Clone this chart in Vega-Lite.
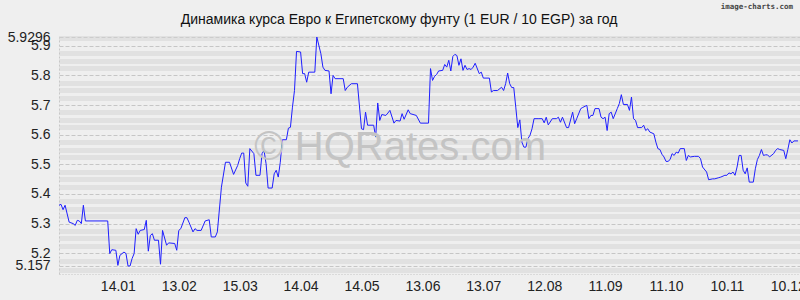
{
  "$schema": "https://vega.github.io/schema/vega-lite/v6.json",
  "autosize": "none",
  "width": 741,
  "height": 237,
  "padding": {"left": 59, "top": 37, "right": 0, "bottom": 26},
  "background": "#efefef",
  "config": {"view": {"stroke": null}, "font": "Liberation Sans"},
  "resolve": {"axis": {"y": "independent"}},
  "layer": [
    {
      "data": {"values": [
        {"d":"2024-12-16","v":5.362},{"d":"2024-12-17","v":5.365},{"d":"2024-12-18","v":5.347},{"d":"2024-12-19","v":5.362},{"d":"2024-12-21","v":5.305},{"d":"2024-12-23","v":5.300},{"d":"2024-12-24","v":5.294},{"d":"2024-12-25","v":5.311},{"d":"2024-12-26","v":5.309},{"d":"2024-12-27","v":5.300},{"d":"2024-12-28","v":5.362},{"d":"2024-12-29","v":5.309},
        {"d":"2025-01-09","v":5.309},{"d":"2025-01-10","v":5.199},{"d":"2025-01-11","v":5.212},{"d":"2025-01-13","v":5.210},{"d":"2025-01-14","v":5.159},{"d":"2025-01-15","v":5.193},{"d":"2025-01-17","v":5.204},{"d":"2025-01-18","v":5.199},{"d":"2025-01-19","v":5.157},{"d":"2025-01-20","v":5.157},{"d":"2025-01-21","v":5.182},{"d":"2025-01-22","v":5.199},{"d":"2025-01-23","v":5.283},{"d":"2025-01-24","v":5.264},{"d":"2025-01-25","v":5.277},{"d":"2025-01-27","v":5.280},{"d":"2025-01-28","v":5.311},{"d":"2025-01-29","v":5.207},{"d":"2025-01-30","v":5.260},{"d":"2025-01-31","v":5.266},
        {"d":"2025-02-01","v":5.244},{"d":"2025-02-03","v":5.244},{"d":"2025-02-04","v":5.163},{"d":"2025-02-05","v":5.277},{"d":"2025-02-07","v":5.227},{"d":"2025-02-08","v":5.235},{"d":"2025-02-11","v":5.233},{"d":"2025-02-12","v":5.210},{"d":"2025-02-13","v":5.277},{"d":"2025-02-14","v":5.283},{"d":"2025-02-16","v":5.320},{"d":"2025-02-17","v":5.320},{"d":"2025-02-18","v":5.305},{"d":"2025-02-20","v":5.272},{"d":"2025-02-21","v":5.283},{"d":"2025-02-22","v":5.277},{"d":"2025-02-24","v":5.277},{"d":"2025-02-26","v":5.309},{"d":"2025-02-28","v":5.313},
        {"d":"2025-03-01","v":5.255},{"d":"2025-03-03","v":5.255},{"d":"2025-03-04","v":5.272},{"d":"2025-03-06","v":5.423},{"d":"2025-03-08","v":5.507},{"d":"2025-03-10","v":5.507},{"d":"2025-03-12","v":5.466},{"d":"2025-03-14","v":5.496},{"d":"2025-03-15","v":5.519},{"d":"2025-03-16","v":5.538},{"d":"2025-03-17","v":5.538},{"d":"2025-03-18","v":5.437},{"d":"2025-03-19","v":5.426},{"d":"2025-03-20","v":5.553},{"d":"2025-03-22","v":5.536},{"d":"2025-03-23","v":5.463},{"d":"2025-03-25","v":5.463},{"d":"2025-03-26","v":5.536},{"d":"2025-03-27","v":5.547},{"d":"2025-03-28","v":5.502},{"d":"2025-03-29","v":5.420},{"d":"2025-03-31","v":5.420},
        {"d":"2025-04-01","v":5.468},{"d":"2025-04-02","v":5.480},{"d":"2025-04-03","v":5.457},{"d":"2025-04-04","v":5.507},{"d":"2025-04-05","v":5.583},{"d":"2025-04-07","v":5.583},{"d":"2025-04-08","v":5.622},{"d":"2025-04-09","v":5.625},{"d":"2025-04-10","v":5.693},{"d":"2025-04-11","v":5.749},{"d":"2025-04-12","v":5.881},{"d":"2025-04-14","v":5.879},{"d":"2025-04-15","v":5.806},{"d":"2025-04-16","v":5.806},{"d":"2025-04-17","v":5.777},{"d":"2025-04-18","v":5.811},{"d":"2025-04-21","v":5.811},{"d":"2025-04-22","v":5.9296},{"d":"2025-04-24","v":5.873},{"d":"2025-04-25","v":5.828},{"d":"2025-04-26","v":5.817},{"d":"2025-04-28","v":5.815},{"d":"2025-04-29","v":5.738},{"d":"2025-04-30","v":5.800},
        {"d":"2025-05-01","v":5.789},{"d":"2025-05-05","v":5.789},{"d":"2025-05-06","v":5.749},{"d":"2025-05-07","v":5.760},{"d":"2025-05-09","v":5.772},{"d":"2025-05-12","v":5.772},{"d":"2025-05-14","v":5.620},{"d":"2025-05-15","v":5.617},{"d":"2025-05-16","v":5.676},{"d":"2025-05-17","v":5.632},{"d":"2025-05-20","v":5.632},{"d":"2025-05-21","v":5.592},{"d":"2025-05-22","v":5.707},{"d":"2025-05-23","v":5.648},{"d":"2025-05-24","v":5.668},{"d":"2025-05-26","v":5.665},{"d":"2025-05-27","v":5.673},{"d":"2025-05-28","v":5.682},{"d":"2025-05-30","v":5.639},{"d":"2025-05-31","v":5.648},
        {"d":"2025-06-02","v":5.646},{"d":"2025-06-03","v":5.671},{"d":"2025-06-04","v":5.652},{"d":"2025-06-06","v":5.684},{"d":"2025-06-07","v":5.671},{"d":"2025-06-10","v":5.665},{"d":"2025-06-12","v":5.639},{"d":"2025-06-16","v":5.639},{"d":"2025-06-17","v":5.823},{"d":"2025-06-18","v":5.783},{"d":"2025-06-19","v":5.797},{"d":"2025-06-20","v":5.803},{"d":"2025-06-21","v":5.815},{"d":"2025-06-23","v":5.817},{"d":"2025-06-24","v":5.837},{"d":"2025-06-25","v":5.828},{"d":"2025-06-26","v":5.851},{"d":"2025-06-27","v":5.815},{"d":"2025-06-28","v":5.864},{"d":"2025-06-29","v":5.871},{"d":"2025-06-30","v":5.867},
        {"d":"2025-07-01","v":5.834},{"d":"2025-07-02","v":5.856},{"d":"2025-07-03","v":5.817},{"d":"2025-07-04","v":5.834},{"d":"2025-07-05","v":5.820},{"d":"2025-07-06","v":5.823},{"d":"2025-07-07","v":5.820},{"d":"2025-07-08","v":5.828},{"d":"2025-07-09","v":5.841},{"d":"2025-07-11","v":5.806},{"d":"2025-07-12","v":5.811},{"d":"2025-07-13","v":5.791},{"d":"2025-07-16","v":5.791},{"d":"2025-07-17","v":5.744},{"d":"2025-07-18","v":5.749},{"d":"2025-07-20","v":5.749},{"d":"2025-07-22","v":5.760},{"d":"2025-07-23","v":5.749},{"d":"2025-07-24","v":5.772},{"d":"2025-07-25","v":5.808},{"d":"2025-07-26","v":5.772},{"d":"2025-07-27","v":5.759},{"d":"2025-07-28","v":5.759},{"d":"2025-07-29","v":5.693},{"d":"2025-07-30","v":5.624},{"d":"2025-07-31","v":5.650},
        {"d":"2025-08-01","v":5.575},{"d":"2025-08-02","v":5.558},{"d":"2025-08-03","v":5.558},{"d":"2025-08-04","v":5.587},{"d":"2025-08-05","v":5.598},{"d":"2025-08-06","v":5.620},{"d":"2025-08-07","v":5.654},{"d":"2025-08-09","v":5.654},{"d":"2025-08-11","v":5.654},{"d":"2025-08-12","v":5.640},{"d":"2025-08-13","v":5.659},{"d":"2025-08-14","v":5.633},{"d":"2025-08-16","v":5.654},{"d":"2025-08-18","v":5.654},{"d":"2025-08-19","v":5.659},{"d":"2025-08-20","v":5.642},{"d":"2025-08-21","v":5.659},{"d":"2025-08-23","v":5.624},{"d":"2025-08-24","v":5.624},{"d":"2025-08-26","v":5.676},{"d":"2025-08-27","v":5.637},{"d":"2025-08-28","v":5.654},{"d":"2025-08-30","v":5.688},{"d":"2025-08-31","v":5.692},
        {"d":"2025-09-02","v":5.699},{"d":"2025-09-03","v":5.654},{"d":"2025-09-04","v":5.665},{"d":"2025-09-05","v":5.665},{"d":"2025-09-06","v":5.688},{"d":"2025-09-08","v":5.688},{"d":"2025-09-09","v":5.659},{"d":"2025-09-10","v":5.654},{"d":"2025-09-11","v":5.659},{"d":"2025-09-12","v":5.614},{"d":"2025-09-13","v":5.671},{"d":"2025-09-14","v":5.676},{"d":"2025-09-15","v":5.654},{"d":"2025-09-17","v":5.688},{"d":"2025-09-18","v":5.705},{"d":"2025-09-19","v":5.735},{"d":"2025-09-20","v":5.702},{"d":"2025-09-22","v":5.702},{"d":"2025-09-23","v":5.682},{"d":"2025-09-24","v":5.727},{"d":"2025-09-25","v":5.654},{"d":"2025-09-26","v":5.648},{"d":"2025-09-27","v":5.624},{"d":"2025-09-29","v":5.624},{"d":"2025-09-30","v":5.632},
        {"d":"2025-10-01","v":5.614},{"d":"2025-10-02","v":5.620},{"d":"2025-10-03","v":5.609},{"d":"2025-10-05","v":5.603},{"d":"2025-10-06","v":5.575},{"d":"2025-10-07","v":5.553},{"d":"2025-10-08","v":5.550},{"d":"2025-10-09","v":5.534},{"d":"2025-10-10","v":5.525},{"d":"2025-10-11","v":5.510},{"d":"2025-10-12","v":5.510},{"d":"2025-10-13","v":5.516},{"d":"2025-10-14","v":5.536},{"d":"2025-10-15","v":5.530},{"d":"2025-10-16","v":5.541},{"d":"2025-10-17","v":5.538},{"d":"2025-10-18","v":5.553},{"d":"2025-10-20","v":5.553},{"d":"2025-10-21","v":5.513},{"d":"2025-10-22","v":5.530},{"d":"2025-10-23","v":5.525},{"d":"2025-10-25","v":5.527},{"d":"2025-10-27","v":5.527},{"d":"2025-10-28","v":5.519},{"d":"2025-10-29","v":5.491},{"d":"2025-10-31","v":5.474},
        {"d":"2025-11-01","v":5.448},{"d":"2025-11-03","v":5.451},{"d":"2025-11-04","v":5.451},{"d":"2025-11-06","v":5.455},{"d":"2025-11-07","v":5.457},{"d":"2025-11-09","v":5.463},{"d":"2025-11-10","v":5.463},{"d":"2025-11-11","v":5.471},{"d":"2025-11-12","v":5.468},{"d":"2025-11-13","v":5.474},{"d":"2025-11-14","v":5.463},{"d":"2025-11-15","v":5.491},{"d":"2025-11-16","v":5.530},{"d":"2025-11-17","v":5.530},{"d":"2025-11-18","v":5.480},{"d":"2025-11-19","v":5.468},{"d":"2025-11-20","v":5.488},{"d":"2025-11-21","v":5.440},{"d":"2025-11-23","v":5.440},{"d":"2025-11-24","v":5.485},{"d":"2025-11-25","v":5.516},{"d":"2025-11-26","v":5.530},{"d":"2025-11-27","v":5.550},{"d":"2025-11-28","v":5.530},{"d":"2025-11-29","v":5.532},{"d":"2025-11-30","v":5.532},
        {"d":"2025-12-01","v":5.525},{"d":"2025-12-03","v":5.536},{"d":"2025-12-04","v":5.547},{"d":"2025-12-05","v":5.553},{"d":"2025-12-06","v":5.550},{"d":"2025-12-08","v":5.547},{"d":"2025-12-09","v":5.519},{"d":"2025-12-10","v":5.550},{"d":"2025-12-11","v":5.583},{"d":"2025-12-12","v":5.572},{"d":"2025-12-13","v":5.579},{"d":"2025-12-15","v":5.579}
      ]},
      "mark": {"type": "line", "color": "#1f1fff", "strokeWidth": 1, "interpolate": "linear", "zindex": 2},
      "encoding": {
        "x": {
          "field": "d", "type": "temporal",
          "scale": {"type": "utc", "domain": [{"year": 2024, "month": 12, "date": 16, "utc": true}, {"year": 2025, "month": 12, "date": 16, "utc": true}]},
          "axis": {
            "title": null,
            "labelExpr": "utcFormat(datum.value, '%d.%m')",
            "values": [
              {"year": 2025, "month": 1, "date": 14, "utc": true},
              {"year": 2025, "month": 2, "date": 13, "utc": true},
              {"year": 2025, "month": 3, "date": 15, "utc": true},
              {"year": 2025, "month": 4, "date": 14, "utc": true},
              {"year": 2025, "month": 5, "date": 14, "utc": true},
              {"year": 2025, "month": 6, "date": 13, "utc": true},
              {"year": 2025, "month": 7, "date": 13, "utc": true},
              {"year": 2025, "month": 8, "date": 12, "utc": true},
              {"year": 2025, "month": 9, "date": 11, "utc": true},
              {"year": 2025, "month": 10, "date": 11, "utc": true},
              {"year": 2025, "month": 11, "date": 10, "utc": true},
              {"year": 2025, "month": 12, "date": 10, "utc": true}
            ],
            "grid": false, "ticks": false, "labelPadding": 5,
            "labelFont": "Liberation Sans", "labelFontSize": 14, "labelColor": "#222",
            "labelOverlap": false, "labelFlush": false, "labelBound": false,
            "domain": true, "domainColor": "#c4c4c4", "domainDash": [1, 2], "domainWidth": 1
          }
        },
        "y": {
          "field": "v", "type": "quantitative",
          "scale": {"domain": [5.13, 5.9296], "nice": false, "zero": false},
          "axis": {
            "title": null,
            "values": [5.157, 5.2, 5.3, 5.4, 5.5, 5.6, 5.7, 5.8, 5.9, 5.9296],
            "format": ".4~f",
            "ticks": false, "labelPadding": 9,
            "labelFont": "Liberation Sans", "labelFontSize": 14, "labelColor": "#222",
            "labelOverlap": false, "labelFlush": false, "labelBound": false,
            "domain": true, "domainColor": "#c8c8c8", "domainDash": [2, 2],
            "grid": true, "gridColor": "#c6c6c6", "gridDash": [4, 2], "gridWidth": 1
          }
        }
      }
    },
    {
      "data": {"values": [{}]},
      "mark": {"type": "text", "text": "© HQRates.com", "font": "Liberation Sans", "fontSize": 40, "color": "#c4c4c4", "align": "center", "baseline": "alphabetic", "zindex": 1},
      "encoding": {
        "x": {"datum": {"year": 2025, "month": 6, "date": 2, "utc": true}, "type": "temporal"},
        "y": {
          "datum": 5.515, "type": "quantitative",
          "axis": {
            "orient": "right", "title": null, "labels": false, "ticks": false, "domain": false,
            "values": [5.144, 5.175, 5.225, 5.25, 5.275, 5.325, 5.35, 5.375, 5.425, 5.45, 5.475, 5.525, 5.55, 5.575, 5.625, 5.65, 5.675, 5.725, 5.75, 5.775, 5.825, 5.85, 5.875, 5.925],
            "grid": true, "gridColor": "#d2d2d2", "gridDash": [1, 1], "gridWidth": 5
          }
        }
      }
    },
    {
      "data": {"values": [{}]},
      "mark": {"type": "text", "text": "Динамика курса Евро к Египетскому фунту (1 EUR / 10 EGP) за год", "font": "Liberation Sans", "fontSize": 14, "color": "#111", "align": "center", "baseline": "alphabetic"},
      "encoding": {
        "x": {"datum": {"year": 2025, "month": 6, "date": 1, "hours": 12, "utc": true}, "type": "temporal"},
        "y": {"datum": 5.9735, "type": "quantitative", "axis": null}
      }
    },
    {
      "data": {"values": [{}]},
      "mark": {"type": "text", "text": "image-charts.com", "font": "DejaVu Sans Mono", "fontSize": 7.5, "fontWeight": "bold", "color": "#444", "align": "right", "baseline": "alphabetic", "dx": -7},
      "encoding": {
        "x": {"datum": {"year": 2025, "month": 12, "date": 16, "utc": true}, "type": "temporal"},
        "y": {"datum": 6.024, "type": "quantitative", "axis": null}
      }
    }
  ]
}
